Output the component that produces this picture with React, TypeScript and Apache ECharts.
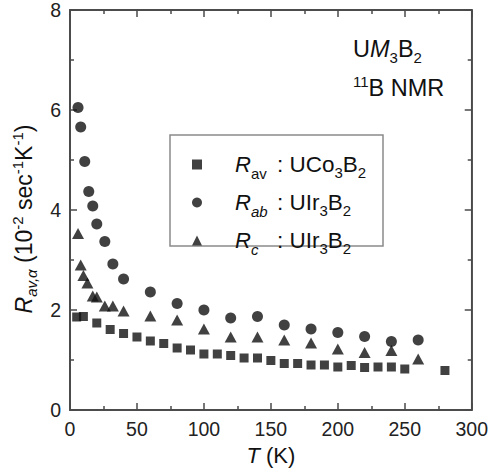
import React, { useEffect, useRef } from "react";
import * as echarts from "echarts";

// ---- data ----
const T_AV = [5, 10, 20, 30, 40, 50, 60, 70, 80, 90, 100, 110, 120, 130, 140, 150, 160, 170, 180, 190, 200, 210, 220, 230, 240, 250, 280];
const R_AV = [1.86, 1.87, 1.74, 1.61, 1.53, 1.46, 1.38, 1.33, 1.24, 1.2, 1.12, 1.12, 1.09, 1.04, 1.04, 0.99, 0.93, 0.93, 0.9, 0.9, 0.86, 0.89, 0.85, 0.86, 0.86, 0.82, 0.79];

const T_AB = [6, 8, 11, 14, 17, 20, 26, 32, 40, 60, 80, 100, 120, 140, 160, 180, 200, 220, 240, 260];
const R_AB = [6.05, 5.66, 4.97, 4.37, 4.08, 3.72, 3.37, 2.92, 2.62, 2.36, 2.13, 2.0, 1.84, 1.87, 1.7, 1.62, 1.55, 1.47, 1.37, 1.4];

const T_C = [6, 8, 10, 13, 17, 20, 26, 32, 40, 60, 80, 100, 120, 140, 160, 180, 200, 220, 240, 260];
const R_C = [3.53, 2.9, 2.69, 2.54, 2.28, 2.26, 2.08, 2.08, 1.98, 1.88, 1.8, 1.62, 1.46, 1.46, 1.4, 1.34, 1.22, 1.15, 1.19, 1.02];

const SERIES_NAMES = ["Rav", "Rab", "Rc"];
const X_MIN = 0, X_MAX = 300, X_INTERVAL = 50;
const Y_MIN = 0, Y_MAX = 8, Y_INTERVAL = 2;

const FONT = "Liberation Sans, Arial, Helvetica, sans-serif";
const AX = "#4a4a4a";
const MARK = "#111111";

const zip = (xs: number[], ys: number[]) => xs.map((x, i) => [x, ys[i]]);

const LEGEND_TEXT: Record<string, string> = {
  Rav: "{sp| }{r|R}{s|av}{t|: UCo}{sb|3}{t|B}{sb|2}",
  Rab: "{sp| }{r|R}{si|ab}{t|: UIr}{sb|3}{t|B}{sb|2}",
  Rc: "{sp| }{r|R}{si|c}{t|: UIr}{sb|3}{t|B}{sb|2}",
};

const mkLine = () => ({ show: true, onZero: false, lineStyle: { color: AX, width: 1.5 } });
const mkTick = () => ({ show: true, inside: true, length: 7, lineStyle: { color: AX, width: 1.5 } });
const mkMinor = () => ({ show: true, splitNumber: 2, length: 4, lineStyle: { color: AX, width: 1.5 } });

export default function App() {
  const ref = useRef<HTMLDivElement>(null);

  useEffect(() => {
    document.body.style.margin = "0";
    if (!ref.current) return;
    const chart = echarts.init(ref.current, null, { renderer: "svg" });

    const L = 24;
    const legendRich = {
      sp: { width: 28, fontSize: 22, lineHeight: L, fontFamily: FONT },
      r: { fontSize: 22, fontStyle: "italic", width: 16, lineHeight: L, fontFamily: FONT, color: "#111" },
      s: { fontSize: 15, width: 26, lineHeight: L, padding: [18, 0, 0, 0], fontFamily: FONT, color: "#111" },
      si: { fontSize: 15, fontStyle: "italic", width: 26, lineHeight: L, padding: [18, 0, 0, 0], fontFamily: FONT, color: "#111" },
      t: { fontSize: 22.5, lineHeight: L, fontFamily: FONT, color: "#111" },
      sb: { fontSize: 15, lineHeight: L, padding: [15, 0, 0, 0], fontFamily: FONT, color: "#111" },
    };

    const LY = 28;
    const yNameRich = {
      r: { fontSize: 23, fontStyle: "italic", lineHeight: LY, fontFamily: FONT, color: "#111" },
      s: { fontSize: 15, fontStyle: "italic", lineHeight: LY, padding: [16, 0, 0, 0], fontFamily: FONT, color: "#111" },
      t: { fontSize: 23, lineHeight: LY, fontFamily: FONT, color: "#111" },
      p: { fontSize: 15, lineHeight: LY, padding: [0, 0, 12, 0], fontFamily: FONT, color: "#111" },
    };

    const LA = 30;
    const annRich = {
      t: { fontSize: 23.5, lineHeight: LA, fontFamily: FONT, color: "#111" },
      i: { fontSize: 23.5, fontStyle: "italic", lineHeight: LA, fontFamily: FONT, color: "#111" },
      sb: { fontSize: 15, lineHeight: LA, padding: [16, 0, 0, 0], fontFamily: FONT, color: "#111" },
      p: { fontSize: 15, lineHeight: LA, padding: [0, 0, 14, 0], fontFamily: FONT, color: "#111" },
    };

    chart.setOption({
      animation: false,
      backgroundColor: "#ffffff",
      grid: {
        left: 70, right: 18, top: 6, bottom: 66,
        show: true, borderColor: AX, borderWidth: 1.5,
      },
      xAxis: [
        {
          type: "value",
          min: X_MIN, max: X_MAX, interval: X_INTERVAL,
          position: "bottom",
          name: "{i|T} (K)",
          nameLocation: "middle",
          nameGap: 34,
          nameTextStyle: {
            fontSize: 22,
            fontFamily: FONT,
            color: "#111",
            rich: {
              i: { fontSize: 22, fontStyle: "italic", fontFamily: FONT, color: "#111" },
            },
          },
          axisLine: mkLine(),
          axisTick: mkTick(),
          minorTick: mkMinor(),
          splitLine: { show: false },
          axisLabel: { fontSize: 19.5, fontFamily: FONT, color: "#222", margin: 9 },
        },
        {
          type: "value",
          min: X_MIN, max: X_MAX, interval: X_INTERVAL,
          position: "top",
          axisLine: mkLine(),
          axisTick: mkTick(),
          minorTick: mkMinor(),
          splitLine: { show: false },
          axisLabel: { show: false },
        },
      ],
      yAxis: [
        {
          type: "value",
          min: Y_MIN, max: Y_MAX, interval: Y_INTERVAL,
          position: "left",
          name: "{r|R}{s|av,α}{t| (10}{p|-2}{t| sec}{p|-1}{t|K}{p|-1}{t|)}",
          nameLocation: "middle",
          nameGap: 30,
          nameRotate: 90,
          nameTextStyle: { fontSize: 23, fontFamily: FONT, color: "#111", rich: yNameRich, padding: [0, 18, 0, 0] },
          axisLine: mkLine(),
          axisTick: mkTick(),
          minorTick: mkMinor(),
          splitLine: { show: false },
          axisLabel: { fontSize: 19.5, fontFamily: FONT, color: "#222", margin: 9 },
        },
        {
          type: "value",
          min: Y_MIN, max: Y_MAX, interval: Y_INTERVAL,
          position: "right",
          axisLine: mkLine(),
          axisTick: mkTick(),
          minorTick: mkMinor(),
          splitLine: { show: false },
          axisLabel: { show: false },
        },
      ],
      legend: {
        orient: "vertical",
        left: 192,
        top: 148,
        padding: 0,
        itemGap: 5,
        itemWidth: 10,
        itemHeight: 10,
        selectedMode: false,
        data: [
          { name: "Rav", icon: "rect" },
          { name: "Rab", icon: "circle" },
          { name: "Rc", icon: "triangle" },
        ],
        formatter: (name: string) => LEGEND_TEXT[name],
        textStyle: { fontSize: 22, fontFamily: FONT, color: "#111", rich: legendRich },
      },
      series: [
        {
          name: SERIES_NAMES[0],
          type: "scatter",
          symbol: "rect",
          symbolSize: 9,
          itemStyle: { color: MARK },
          data: zip(T_AV, R_AV),
        },
        {
          name: SERIES_NAMES[1],
          type: "scatter",
          symbol: "circle",
          symbolSize: 11,
          itemStyle: { color: MARK },
          data: zip(T_AB, R_AB),
        },
        {
          name: SERIES_NAMES[2],
          type: "scatter",
          xAxisIndex: 1,
          yAxisIndex: 1,
          symbol: "triangle",
          symbolSize: [12, 11],
          itemStyle: { color: MARK },
          data: zip(T_C, R_C),
        },
      ],
    });

    // plot frame derived from the axes' own scales
    const p0 = chart.convertToPixel({ gridIndex: 0 }, [X_MIN, Y_MIN]) as number[];
    const p1 = chart.convertToPixel({ gridIndex: 0 }, [X_MAX, Y_MAX]) as number[];

    chart.setOption({
      graphic: [
        {
          type: "rect",
          z: 10,
          shape: { x: p0[0], y: p1[1], width: p1[0] - p0[0], height: p0[1] - p1[1] },
          style: { fill: "none", stroke: AX, lineWidth: 1.5 },
        },
        {
          type: "rect",
          shape: { x: 170, y: 135, width: 213, height: 111 },
          style: { fill: "none", stroke: "#8a8a8a", lineWidth: 1.5 },
        },
        {
          type: "text",
          x: 353,
          y: 34,
          style: {
            text: "{t|U}{i|M}{sb|3}{t|B}{sb|2}",
            rich: annRich,
            verticalAlign: "top",
            align: "left",
            fill: "#111",
          },
        },
        {
          type: "text",
          x: 353,
          y: 73,
          style: {
            text: "{p|11}{t|B NMR}",
            rich: annRich,
            verticalAlign: "top",
            align: "left",
            fill: "#111",
          },
        },
      ],
    });

    return () => chart.dispose();
  }, []);

  return <div ref={ref} style={{ width: 491, height: 476 }} />;
}
